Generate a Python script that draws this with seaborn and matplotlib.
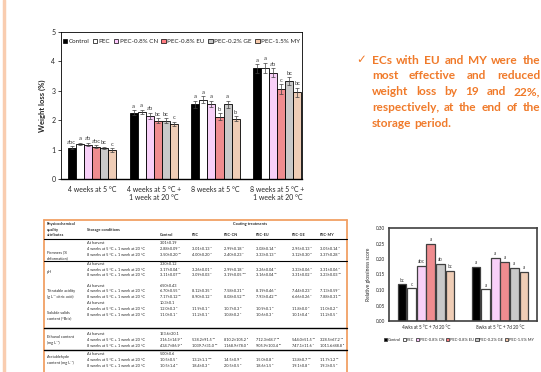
import matplotlib
matplotlib.use('Agg')
import matplotlib.pyplot as plt
import seaborn as sns
import pandas as pd
import numpy as np
from matplotlib.patches import Patch

# ---- data ----
treatments = ['Control', 'PEC', 'PEC-0.8% CN', 'PEC-0.8% EU', 'PEC-0.2% GE', 'PEC-1.5% MY']
colors = ['#000000', '#FFFFFF', '#FFC9FF', '#FF7C80', '#C9C9C9', '#F8CBAD']

periods = ['4 weeks at 5 °C', '4 weeks at 5 °C +\n1 week at 20 °C',
           '8 weeks at 5 °C', '8 weeks at 5 °C +\n1 week at 20 °C']
wl_control = [1.06, 2.26, 2.55, 3.76]
wl_pec = [1.20, 2.28, 2.69, 3.79]
wl_cn = [1.17, 2.15, 2.56, 3.62]
wl_eu = [1.09, 1.98, 2.12, 3.05]
wl_ge = [1.06, 1.98, 2.54, 3.33]
wl_my = [0.98, 1.88, 2.05, 2.95]
wl_err = [[0.05, 0.07, 0.12, 0.15], [0.04, 0.07, 0.12, 0.17], [0.06, 0.10, 0.10, 0.15],
          [0.05, 0.08, 0.12, 0.17], [0.04, 0.08, 0.13, 0.13], [0.06, 0.07, 0.08, 0.15]]
wl_letters = [['abc', 'a', 'a', 'a'], ['a', 'a', 'a', 'a'], ['ab', 'ab', 'a', 'ab'],
              ['abc', 'bc', 'b', 'c'], ['bc', 'bc', 'a', 'bc'], ['c', 'c', 'b', 'bc']]

gl_periods = ['4wks at 5 °C + 7d 20 °C', '8wks at 5 °C + 7d 20 °C']
gl_control = [0.118, 0.175]
gl_pec = [0.105, 0.102]
gl_cn = [0.178, 0.204]
gl_eu = [0.250, 0.191]
gl_ge = [0.184, 0.170]
gl_my = [0.162, 0.157]
gl_letters = [['bc', 'a'], ['c', 'a'], ['abc', 'a'], ['a', 'a'], ['ab', 'a'], ['bc', 'a']]

message = ['ECs with EU and MY were the', 'most effective and reduced',
           'weight loss by 19 and 22%,', 'respectively, at the end of the',
           'storage period.']

tab_cols = ['Control', 'PEC', 'PEC-CN', 'PEC-EU', 'PEC-GE', 'PEC-MY']
conditions = ['At harvest', '4 weeks at 5 °C + 1 week at 20 °C', '8 weeks at 5 °C + 1 week at 20 °C']
attributes = [['Firmness (%', 'deformation)'], ['pH'], ['Titratable acidity', '(g L⁻¹ citric acid)'],
              ['Soluble solids', 'content (°Brix)'], ['Ethanol content', '(mg L⁻¹)'],
              ['Acetaldehyde', 'content (mg L⁻¹)']]
harvest = ['3.01±0.19', '3.30±0.12', '6.50±0.43', '10.3±0.1', '153.6±20.1', '5.00±0.6']
tab_4w = [
    [('2.88±0.09', 'a'), ('3.01±0.13', 'a'), ('2.99±0.18', 'a'), ('3.08±0.14', 'a'), ('2.95±0.13', 'a'), ('3.05±0.14', 'a')],
    [('3.17±0.04', 'c'), ('3.26±0.01', 'a'), ('2.99±0.18', 'c'), ('3.26±0.04', 'a'), ('3.33±0.06', 'a'), ('3.31±0.06', 'a')],
    [('6.70±0.55', 'd'), ('8.12±0.35', 'a'), ('7.58±0.31', 'b'), ('8.19±0.46', 'a'), ('7.44±0.23', 'c'), ('7.13±0.59', 'c')],
    [('12.0±0.3', 'a'), ('11.9±0.1', 'a'), ('10.7±0.3', 'b'), ('10.9±0.1', 'b'), ('11.8±0.0', 'a'), ('11.0±0.2', 'b')],
    [('316.1±14.9', 'd'), ('538.2±91.5', 'bc'), ('810.2±105.2', 'a'), ('712.3±68.7', 'ab'), ('544.0±51.5', 'bc'), ('328.5±67.2', 'cd')],
    [('10.5±0.5', 'c'), ('13.2±1.1', 'abc'), ('14.5±0.9', 'a'), ('15.0±0.8', 'a'), ('13.8±0.7', 'ab'), ('11.7±1.2', 'bc')],
]
tab_8w = [
    [('3.50±0.20', 'ab'), ('4.00±0.20', 'a'), ('2.40±0.23', 'c'), ('3.33±0.13', 'b'), ('3.12±0.30', 'b'), ('3.37±0.28', 'b')],
    [('3.11±0.07', 'bc'), ('3.09±0.03', 'c'), ('3.19±0.05', 'abc'), ('3.16±0.04', 'bc'), ('3.31±0.02', 'a'), ('3.23±0.03', 'ab')],
    [('7.17±0.12', 'bc'), ('8.90±0.12', 'a'), ('8.08±0.52', 'ab'), ('7.93±0.42', 'ab'), ('6.66±0.26', 'c'), ('7.88±0.31', 'bc')],
    [('11.0±0.1', 'c'), ('11.2±0.1', 'c'), ('10.8±0.2', 'c'), ('10.6±0.3', 'c'), ('10.1±0.4', 'c'), ('11.2±0.5', 'c')],
    [('434.7±86.9', 'd'), ('1039.7±31.0', 'ab'), ('1168.9±78.0', 'a'), ('905.9±103.4', 'bc'), ('747.1±11.6', 'c'), ('1011.6±88.8', 'b')],
    [('10.5±1.4', 'b'), ('18.4±0.3', 'a'), ('20.5±0.5', 'a'), ('18.6±1.5', 'a'), ('19.1±0.8', 'a'), ('19.3±0.5', 'a')],
]
sup = str.maketrans('abcd', 'ᵃᵇᶜᵈ')

sns.set_theme(style='white')
plt.rcParams['font.family'] = ['Lato', 'DejaVu Sans']

W, H = 541, 372
fig = plt.figure(figsize=(W / 100, H / 100), dpi=100)

# pixel-coordinate overlay for slide decorations
bg = fig.add_axes([0, 0, 1, 1])
bg.set_xlim(0, W)
bg.set_ylim(H, 0)
bg.axis('off')


def fax(x0, y0, x1, y1):
    return fig.add_axes([x0 / W, 1 - y1 / H, (x1 - x0) / W, (y1 - y0) / H])


bg.plot([4, 4], [0, H], color='#F9CDB0', lw=2.5)

# ---- weight loss chart ----
series = [wl_control, wl_pec, wl_cn, wl_eu, wl_ge, wl_my]
df = pd.DataFrame([(p, t, series[i][j]) for i, t in enumerate(treatments)
                   for j, p in enumerate(periods)], columns=['period', 'treatment', 'loss'])
ax = fax(61, 32, 302, 179)
sns.barplot(data=df, x='period', y='loss', hue='treatment', order=periods, hue_order=treatments,
            palette=colors, width=0.78, gap=0, edgecolor='black', linewidth=0.6,
            legend=False, ax=ax, zorder=2)
bar_groups = list(ax.containers)
for i, cont in enumerate(bar_groups):
    for j, bar in enumerate(cont):
        x = bar.get_x() + bar.get_width() / 2
        h = bar.get_height()
        e = wl_err[i][j]
        ax.errorbar(x, h, yerr=e, color='#404040', lw=0.5, capsize=1.2, capthick=0.5, zorder=3)
        ax.text(x, h + e + 0.05, wl_letters[i][j], ha='center', va='bottom', fontsize=4.3, color='#404040')
ax.set_xlim(-0.5, 3.4)
ax.set_ylim(0, 5)
ax.set_yticks(range(6))
ax.set_xlabel('')
ax.set_ylabel('Weight loss (%)', fontsize=5.5, fontweight='bold', labelpad=4)
ax.tick_params(axis='both', labelsize=5, length=2, width=0.6, pad=2)
ax.tick_params(axis='x', length=0, pad=5)
ax.tick_params(left=True)
for s in ax.spines.values():
    s.set_linewidth(0.6)
    s.set_color('black')
ax.spines['bottom'].set_linewidth(1)
handles = [Patch(facecolor=c, edgecolor='black', lw=0.5) for c in colors]
ax.legend(handles, treatments, loc='upper center', bbox_to_anchor=(0.5, 0.97), ncol=6, fontsize=4.5,
          frameon=False, handlelength=0.7, handleheight=0.7, handletextpad=0.25, columnspacing=0.55,
          borderaxespad=0)

# ---- message text (justified) ----
orange = '#F07A2A'
bg.text(356, 60, '✓', color=orange, fontsize=8.5, va='center', family=['DejaVu Sans'])
renderer = fig.canvas.get_renderer()
x0, x1 = 372, 540
for k, line in enumerate(message):
    y = 60 + k * 15.8
    words = line.split()
    txts = [bg.text(0, y, w, color=orange, fontsize=8.6, fontweight='bold', va='center') for w in words]
    widths = [t.get_window_extent(renderer).width for t in txts]
    if k == len(message) - 1:
        gap = 3.2
    else:
        gap = (x1 - x0 - sum(widths)) / (len(words) - 1)
    x = x0
    for t, w in zip(txts, widths):
        t.set_x(x)
        x += w + gap

# ---- table ----
border = '#F1A065'
bg.plot([44, 347], [220, 220], color=border, lw=1.3)
bg.plot([44, 44], [220, H], color=border, lw=1.3)
bg.plot([347, 347], [220, H], color=border, lw=1.3)
for ry, lw in [(239.3, 0.8), (260.7, 0.8), (328.3, 1.0), (350, 1.0)]:
    bg.plot([44, 347], [ry, ry], color='black', lw=lw)

fs = 2.75
for k, w in enumerate(['Physicochemical', 'quality', 'attributes']):
    bg.text(47, [224, 230, 235.3][k], w, fontsize=fs, fontweight='bold', va='center')
bg.text(87, 230, 'Storage conditions', fontsize=fs, fontweight='bold', va='center')
bg.text(250, 224, 'Coating treatments', fontsize=fs, fontweight='bold', va='center', ha='center')
col_x = [160, 192, 224, 256, 292, 320]
for cx, c in zip(col_x, tab_cols):
    bg.text(cx, 235.3, c, fontsize=fs, fontweight='bold', va='center')

row_y = [[243.3, 249.3, 255], [264.3, 270, 275.3], [285.7, 291.3, 296.7],
         [303.3, 309, 314.7], [334.3, 340, 346], [354, 360, 365.7]]
label_y = [[252.7, 258.7], [271.7], [291, 297], [313, 318.5], [337, 342.5], [357, 363]]
for a in range(len(attributes)):
    for ly, lab in zip(label_y[a], attributes[a]):
        bg.text(47, ly, lab, fontsize=fs, va='center')
    for r, cond in enumerate(conditions):
        bg.text(87, row_y[a][r], cond, fontsize=fs, va='center')
    bg.text(col_x[0], row_y[a][0], harvest[a], fontsize=fs, va='center')
    for r, rows in [(1, tab_4w), (2, tab_8w)]:
        for cx, (val, let) in zip(col_x, rows[a]):
            bg.text(cx, row_y[a][r], val + ' ' + let.translate(sup), fontsize=fs, va='center')

# ---- relative score chart ----
gseries = [gl_control, gl_pec, gl_cn, gl_eu, gl_ge, gl_my]
gdf = pd.DataFrame([(p, t, gseries[i][j]) for i, t in enumerate(treatments)
                    for j, p in enumerate(gl_periods)], columns=['period', 'treatment', 'score'])
ax2 = fax(389, 228, 537, 321)
sns.barplot(data=gdf, x='period', y='score', hue='treatment', order=gl_periods, hue_order=treatments,
            palette=colors, width=0.78, gap=0.08, edgecolor='#404040', linewidth=0.9,
            legend=False, ax=ax2, zorder=2)
for i, cont in enumerate(list(ax2.containers)):
    for j, bar in enumerate(cont):
        x = bar.get_x() + bar.get_width() / 2
        ax2.text(x, bar.get_height() + 0.006, gl_letters[i][j], ha='center', va='bottom',
                 fontsize=3.3, color='#404040')
ax2.set_xlim(-0.5, 1.5)
ax2.set_ylim(0, 0.30)
ax2.set_yticks(np.arange(0, 0.31, 0.05))
ax2.yaxis.set_major_formatter(matplotlib.ticker.FormatStrFormatter('%.2f'))
ax2.set_xlabel('')
ax2.set_ylabel('Relative glossiness score', fontsize=3.5, labelpad=3)
ax2.tick_params(axis='both', labelsize=3.3, length=0, pad=3)
for s in ax2.spines.values():
    s.set_linewidth(1.2)
    s.set_color('#404040')
handles2 = [Patch(facecolor=c, edgecolor='#404040', lw=0.6) for c in colors]
fig.legend(handles2, treatments, loc='center', bbox_to_anchor=(459 / W, 1 - 340 / H), ncol=6,
           fontsize=2.9, frameon=False, handlelength=0.8, handleheight=0.8, handletextpad=0.2,
           columnspacing=0.4)

fig.savefig('out.png', dpi=100)
